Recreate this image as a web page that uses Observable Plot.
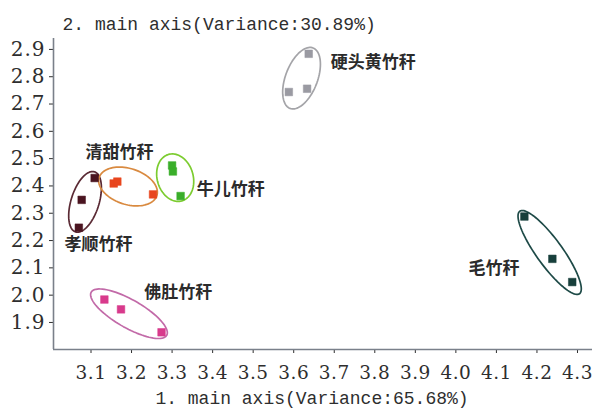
<!DOCTYPE html>
<html><head><meta charset="utf-8">
<script src="https://cdn.jsdelivr.net/npm/d3@7"></script>
<script src="https://cdn.jsdelivr.net/npm/@observablehq/plot@0.6"></script>
<style>
body{margin:0;background:#fff;}
#chart svg{display:block;}
</style></head><body><div id="chart"></div>
<script>
const groups = ["孝顺竹秆","清甜竹秆","牛儿竹秆","佛肚竹秆","硬头黄竹秆","毛竹秆"];
const groupColor = ["#4a1420","#e8461e","#3aae2a","#d83a8c","#9a9aa2","#173f3b"];
const ellipseColor = ["#5a2a34","#d98a40","#7ccc30","#c26aa8","#a4a4a8","#1e4a47"];
const ellipsePad = [5,4,5,6,7,7];          // px added to the long half-axis
const ellipseHalfWidth = [14,18,18,14,16,13]; // px short half-axis
const pointGroup = [0,0,0, 1,1,1, 2,2,2, 3,3,3, 4,4,4, 5,5,5];
const axis1 = [3.109,3.077,3.070, 3.156,3.165,3.253, 3.300,3.302,3.321, 3.133,3.174,3.274, 3.637,3.588,3.633, 4.169,4.238,4.287];
const axis2 = [2.429,2.349,2.247, 2.409,2.416,2.369, 2.475,2.453,2.363, 1.984,1.948,1.864, 2.884,2.744,2.756, 2.288,2.133,2.048];
const labelAxis1 = [3.1185,3.170,3.445,3.315,3.796,4.094];
const labelAxis2 = [2.186,2.524,2.387,2.011,2.853,2.098];
const xTicks = [3.1,3.2,3.3,3.4,3.5,3.6,3.7,3.8,3.9,4.0,4.1,4.2,4.3];
const yTicks = [1.9,2.0,2.1,2.2,2.3,2.4,2.5,2.6,2.7,2.8,2.9];
const xTitle = "1. main axis(Variance:65.68%)";
const yTitle = "2. main axis(Variance:30.89%)";

const W = 596, H = 410, mL = 53, mR = 4, mT = 38, mB = 61;
const xDomain = [3.0075, 4.337], yDomain = [1.801, 2.940];
const sx = d3.scaleLinear(xDomain, [mL, W - mR]);
const sy = d3.scaleLinear(yDomain, [H - mB, mT]);

const points = axis1.map((x, i) => ({x, y: axis2[i], g: pointGroup[i]}));
const labels = groups.map((name, i) => ({name, x: labelAxis1[i], y: labelAxis2[i]}));

// ellipses around each group (built in screen space, mapped back through the scales)
const ellipses = [];
groups.forEach((name, g) => {
  const pts = points.filter(p => p.g === g).map(p => [sx(p.x), sy(p.y)]);
  const cx = d3.mean(pts, p => p[0]), cy = d3.mean(pts, p => p[1]);
  let sxx = 0, syy = 0, sxy = 0;
  pts.forEach(([px, py]) => { const dx = px - cx, dy = py - cy; sxx += dx*dx; syy += dy*dy; sxy += dx*dy; });
  const th = 0.5 * Math.atan2(2*sxy, sxx - syy);
  const ux = Math.cos(th), uy = Math.sin(th);
  const a = d3.max(pts, ([px, py]) => Math.abs((px-cx)*ux + (py-cy)*uy)) + ellipsePad[g];
  const b = ellipseHalfWidth[g];
  for (let k = 0; k < 90; k++) {
    const t = k / 90 * 2 * Math.PI;
    const ex = cx + a*Math.cos(t)*ux - b*Math.sin(t)*uy;
    const ey = cy + a*Math.cos(t)*uy + b*Math.sin(t)*ux;
    ellipses.push({g, x: sx.invert(ex), y: sy.invert(ey)});
  }
});

const serif = "'DejaVu Serif', 'Liberation Serif', serif";
const mono = "'Liberation Mono', 'DejaVu Sans Mono', monospace";
const cjk = "'Noto Sans CJK SC', sans-serif";

const chart = Plot.plot({
  width: W, height: H,
  marginLeft: mL, marginRight: mR, marginTop: mT, marginBottom: mB,
  x: {domain: xDomain},
  y: {domain: yDomain},
  color: {type: "identity"},
  style: {background: "#fff"},
  marks: [
    Plot.line(ellipses, {x: "x", y: "y", z: "g", stroke: d => ellipseColor[d.g], curve: "linear-closed", strokeWidth: 1.7}),
    Plot.dot(points, {x: "x", y: "y", symbol: "square", r: 4.3, fill: d => groupColor[d.g], stroke: d => groupColor[d.g], strokeWidth: 0.5}),
    Plot.text(labels, {x: "x", y: "y", text: "name", fontFamily: cjk, fontSize: 17, fontWeight: "bold", fill: "#2b2b2b"}),
    Plot.axisX({ticks: xTicks, tickFormat: d3.format(".1f"), tickSize: 4, tickPadding: 12, fontSize: 18.5, color: "#2e2e2e", label: null}),
    Plot.axisY({ticks: yTicks, tickFormat: d3.format(".1f"), tickSize: 4, tickPadding: 4, fontSize: 20, color: "#2e2e2e", label: null}),
    Plot.ruleX([xDomain[0]], {stroke: "#7a808a", strokeWidth: 1.6}),
    Plot.ruleY([yDomain[0]], {stroke: "#7a808a", strokeWidth: 1.6}),
    Plot.text([yTitle], {text: d => d, frameAnchor: "top-left", dx: 9, dy: -9, lineAnchor: "bottom", textAnchor: "start", fontFamily: mono, fontSize: 18, fill: "#2e2e2e"}),
    Plot.text([xTitle], {text: d => d, frameAnchor: "bottom", dx: -11, dy: 54, lineAnchor: "bottom", fontFamily: mono, fontSize: 18, fill: "#2e2e2e"})
  ]
});
chart.querySelectorAll('g[aria-label="x-axis tick label"] text').forEach(t => {
  t.style.fontFamily = serif;
  t.style.letterSpacing = "0.5px";
});
chart.querySelectorAll('g[aria-label="y-axis tick label"] text').forEach(t => {
  t.style.fontFamily = serif;
  t.style.letterSpacing = "1px";
});
document.getElementById("chart").append(chart);
</script>
</body></html>
